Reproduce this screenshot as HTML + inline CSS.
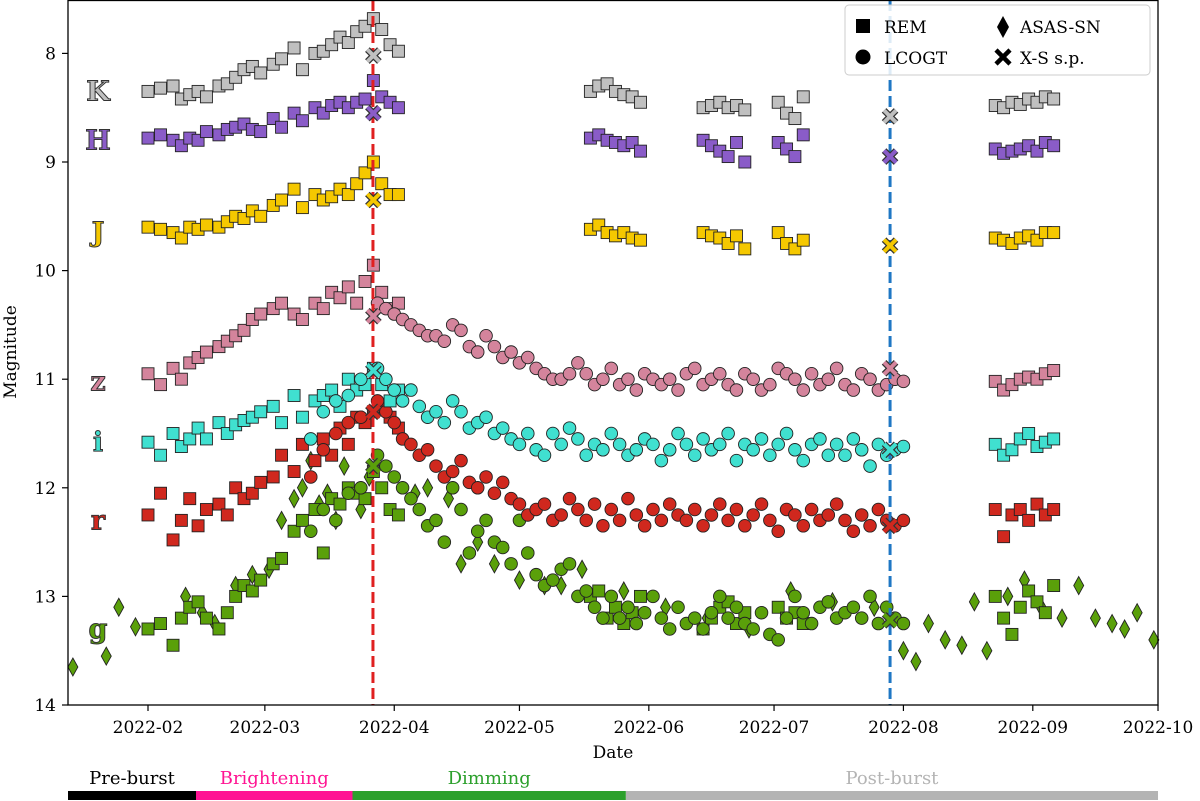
<!DOCTYPE html>
<html><head><meta charset="utf-8"><style>
html,body{margin:0;padding:0;background:#fff;}
svg{display:block;font-family:"DejaVu Serif","Liberation Serif",serif;}
</style></head><body>
<svg id="chart" width="1200" height="801" viewBox="0 0 1200 801" xmlns="http://www.w3.org/2000/svg">
<g id="marks"></g>
<g id="axes"></g>
</svg>
<script>
// ---- data (days since 2022-01-01, magnitudes) ----
const remPreDays=[31,34,37,39,41,43,45,48,50,52,54,56,58,61,63,66,68,71,73,75,77,79,81,83,85,87,89,91];
const kPre=[8.35,8.32,8.3,8.42,8.38,8.35,8.4,8.3,8.28,8.22,8.15,8.12,8.18,8.1,8.05,7.95,8.15,8.0,7.98,7.92,7.85,7.9,7.8,7.75,7.68,7.78,7.92,7.98];
const hPre=[8.78,8.75,8.8,8.85,8.78,8.8,8.72,8.75,8.7,8.68,8.65,8.7,8.72,8.6,8.68,8.55,8.62,8.5,8.55,8.48,8.45,8.5,8.45,8.42,8.25,8.4,8.45,8.5];
const jPre=[9.6,9.62,9.65,9.7,9.6,9.62,9.58,9.6,9.55,9.5,9.52,9.45,9.5,9.4,9.35,9.25,9.42,9.3,9.35,9.32,9.25,9.3,9.2,9.1,9.0,9.2,9.3,9.3];
const zPre=[10.95,11.05,10.9,11.0,10.85,10.8,10.75,10.7,10.65,10.6,10.55,10.45,10.4,10.35,10.3,10.4,10.45,10.3,10.35,10.2,10.25,10.15,10.3,10.1,9.95,10.2,10.35,10.3];
const iPre=[11.58,11.7,11.5,11.62,11.55,11.45,11.55,11.4,11.5,11.42,11.38,11.35,11.3,11.25,11.4,11.15,11.35,11.2,11.15,11.1,11.25,11.0,11.1,11.05,10.9,11.05,11.2,11.1];
const rPre=[12.25,12.05,12.48,12.3,12.1,12.35,12.2,12.15,12.25,12.0,12.1,12.05,11.95,11.9,11.7,11.85,11.6,11.75,11.55,11.7,11.45,11.6,11.35,11.4,11.3,11.25,11.35,11.45];
const gPre=[13.3,13.25,13.45,13.2,13.1,13.05,13.2,13.3,13.15,13.0,12.9,12.95,12.85,12.7,12.65,12.4,12.3,12.2,12.6,12.1,12.15,12.0,12.05,12.1,11.85,12.0,12.2,12.25];
const lcoPreDays=[70,73,76,79,82];
const iLcoPre=[11.55,11.3,11.2,11.15,11.0];
const rLcoPre=[11.9,11.65,11.5,11.4,11.35];
const gLcoPre=[12.4,12.2,12.3,12.05,12.0];
const remPostDays=[137,139,141,143,145,147,149,164,166,168,170,172,174,182,184,186,188,234,236,238,240,242,244,246,248];
const kPost=[8.35,8.3,8.28,8.35,8.38,8.4,8.45,8.5,8.48,8.45,8.5,8.48,8.52,8.45,8.55,8.6,8.4,8.48,8.5,8.45,8.47,8.42,8.45,8.4,8.42];
const hPost=[8.78,8.75,8.8,8.82,8.85,8.82,8.9,8.8,8.85,8.9,8.95,8.82,9.0,8.82,8.88,8.95,8.75,8.88,8.92,8.9,8.88,8.85,8.9,8.82,8.85];
const jPost=[9.62,9.58,9.65,9.68,9.65,9.7,9.72,9.65,9.68,9.7,9.75,9.68,9.8,9.65,9.75,9.8,9.72,9.7,9.72,9.75,9.7,9.68,9.72,9.65,9.65];
const remSepDays=[234,236,238,240,242,244,246,248];
const zSep=[11.02,11.1,11.05,11.0,10.98,11.0,10.95,10.92];
const iSep=[11.6,11.7,11.65,11.55,11.5,11.62,11.58,11.55];
const rSep=[12.2,12.45,12.25,12.2,12.3,12.15,12.25,12.2];
const gSep=[13.0,13.2,13.35,13.1,12.95,13.05,13.15,12.9];
const remMidDays=[137,139,141,143,145,147,149,164,166,168,170,172,174,182,184,186,188];
const gMid=[13.0,12.95,13.2,13.1,13.25,13.15,13.0,13.3,13.2,13.1,13.05,13.25,13.15,13.1,13.2,13.15,13.25];
const lcoDays=[86,88,90,92,94,96,98,100,102,104,106,108,110,112,114,116,118,120,122,124,126,128,130,132,134,136,138,140,142,144,146,148,150,152,154,156,158,160,162,164,166,168,170,172,174,176,178,180,182,184,186,188,190,192,194,196,198,200,202,204,206,208,210,212];
const zLco=[10.3,10.35,10.4,10.45,10.5,10.55,10.6,10.6,10.65,10.5,10.55,10.7,10.75,10.6,10.7,10.8,10.75,10.85,10.8,10.9,10.95,11.0,11.0,10.95,10.85,10.95,11.05,11.0,10.9,11.05,11.0,11.1,10.95,11.0,11.05,11.0,11.1,10.95,10.9,11.05,11.0,10.95,11.05,11.1,10.95,11.0,11.1,11.05,10.9,10.95,11.0,11.1,10.95,11.05,11.0,10.9,11.05,11.1,10.95,11.0,11.1,11.05,11.0,11.02];
const iLco=[10.9,11.0,11.1,11.2,11.1,11.25,11.35,11.3,11.4,11.2,11.3,11.45,11.4,11.35,11.5,11.45,11.55,11.6,11.5,11.65,11.7,11.5,11.6,11.45,11.55,11.7,11.6,11.65,11.5,11.6,11.7,11.65,11.55,11.6,11.75,11.65,11.5,11.6,11.7,11.55,11.65,11.6,11.5,11.75,11.6,11.65,11.55,11.7,11.6,11.5,11.65,11.75,11.6,11.55,11.7,11.6,11.7,11.55,11.65,11.8,11.6,11.7,11.65,11.62];
const rLco=[11.2,11.3,11.4,11.55,11.6,11.7,11.65,11.8,11.9,11.85,11.75,11.95,12.0,11.9,12.05,11.95,12.1,12.15,12.25,12.2,12.15,12.3,12.25,12.1,12.2,12.3,12.15,12.35,12.2,12.3,12.1,12.25,12.35,12.2,12.3,12.15,12.25,12.3,12.2,12.35,12.25,12.15,12.3,12.2,12.35,12.25,12.15,12.3,12.4,12.2,12.25,12.35,12.2,12.3,12.25,12.15,12.3,12.4,12.25,12.35,12.2,12.3,12.35,12.3];
const gLco=[11.7,11.8,11.9,12.0,12.1,12.2,12.35,12.3,12.5,12.0,12.2,12.6,12.4,12.3,12.5,12.55,12.7,12.3,12.6,12.8,12.9,12.85,12.75,12.7,13.0,12.95,13.1,13.2,13.0,13.2,13.1,13.25,13.15,13.0,13.2,13.3,13.1,13.25,13.2,13.3,13.15,13.0,13.2,13.1,13.25,13.3,13.15,13.35,13.4,13.2,13.0,13.15,13.25,13.1,13.05,13.2,13.15,13.1,13.2,13.0,13.25,13.1,13.2,13.25];
const asasDays=[13,21,24,28,40,44,47,52,56,60,63,66,68,70,72,74,76,78,82,84,95,98,103,106,110,114,120,126,130,135,145,155,165,175,185,195,205,212,215,218,222,226,229,232,237,241,245,250,254,258,262,265,268,272];
const asasG=[13.65,13.55,13.1,13.28,13.0,13.15,13.25,12.9,12.8,12.75,12.3,12.1,12.0,11.75,12.15,12.05,12.3,11.8,12.2,11.9,12.05,12.0,12.1,12.7,12.5,12.7,12.85,12.9,12.9,12.75,12.95,13.1,13.2,13.3,12.95,13.05,13.1,13.5,13.6,13.25,13.4,13.45,13.05,13.5,13.0,12.85,13.1,13.2,12.9,13.2,13.25,13.3,13.15,13.4];
const xsDays=[85,85,85,85,85,85,85,208.8,208.8,208.8,208.8,208.8,208.8,208.8];
const xsMags=[8.02,8.55,9.35,10.42,10.92,11.3,11.8,8.58,8.95,9.77,10.9,11.65,12.35,13.22];
const xsBands=['K','H','J','z','i','r','g','K','H','J','z','i','r','g'];
const vlineDays=[84.9,208.8];
const yTicks=[8,9,10,11,12,13,14];
const xTickDays=[31,59,90,120,151,181,212,243,273];
const xTickLabels=['2022-02','2022-03','2022-04','2022-05','2022-06','2022-07','2022-08','2022-09','2022-10'];
const phaseNames=['Pre-burst','Brightening','Dimming','Post-burst'];
const phaseStart=[11,42.5,80,145.5];
const phaseEnd=[42.5,80,145.5,273];

const C={K:'#c0c0c0',H:'#8a5cc8',J:'#f5c800',z:'#d4849c',i:'#40e0d0',r:'#d0281e',g:'#5aa00a'};
const L=68,R=1158,T=0,B=705;
const X=d=>148+(d-31)*4.1736;
const Y=m=>705-(14-m)*108.6;
const NS='http://www.w3.org/2000/svg';
const marks=document.getElementById('marks'), axes=document.getElementById('axes');
function mk(tag,attrs,parent){const e=document.createElementNS(NS,tag);for(const k in attrs)e.setAttribute(k,attrs[k]);parent.appendChild(e);return e;}
function sq(x,y,col,p){const e=mk('rect',{x:x-6,y:y-6,width:12,height:12,fill:col,stroke:'#222','stroke-width':0.9},p);

}
function ci(x,y,col,p){const e=mk('circle',{cx:x,cy:y,r:6.3,fill:col,stroke:'#222','stroke-width':0.9},p);

}
function di(x,y,col,p){const e=mk('polygon',{points:`${x},${y-9} ${x+5},${y} ${x},${y+9} ${x-5},${y}`,fill:col,stroke:'#222','stroke-width':0.9},p);

}
function xs(x,y,col,p){const s=6;const d=`M${x-s},${y-s}L${x+s},${y+s}M${x-s},${y+s}L${x+s},${y-s}`;
mk('path',{d:d,stroke:'#333','stroke-width':6.5,'stroke-linecap':'butt'},p);
const e=mk('path',{d:d,stroke:col,'stroke-width':4},p);

}

const g=marks;
asasDays.forEach((d,k)=>di(X(d),Y(asasG[k]),C.g,g));
remPreDays.forEach((d,k)=>sq(X(d),Y(gPre[k]),C.g,g));
lcoPreDays.forEach((d,k)=>ci(X(d),Y(gLcoPre[k]),C.g,g));
remMidDays.forEach((d,k)=>sq(X(d),Y(gMid[k]),C.g,g));
remSepDays.forEach((d,k)=>sq(X(d),Y(gSep[k]),C.g,g));
lcoDays.forEach((d,k)=>ci(X(d),Y(gLco[k]),C.g,g));
remPreDays.forEach((d,k)=>sq(X(d),Y(rPre[k]),C.r,g));
lcoPreDays.forEach((d,k)=>ci(X(d),Y(rLcoPre[k]),C.r,g));
remSepDays.forEach((d,k)=>sq(X(d),Y(rSep[k]),C.r,g));
lcoDays.forEach((d,k)=>ci(X(d),Y(rLco[k]),C.r,g));
remPreDays.forEach((d,k)=>sq(X(d),Y(iPre[k]),C.i,g));
lcoPreDays.forEach((d,k)=>ci(X(d),Y(iLcoPre[k]),C.i,g));
remSepDays.forEach((d,k)=>sq(X(d),Y(iSep[k]),C.i,g));
lcoDays.forEach((d,k)=>ci(X(d),Y(iLco[k]),C.i,g));
remPreDays.forEach((d,k)=>sq(X(d),Y(zPre[k]),C.z,g));
remSepDays.forEach((d,k)=>sq(X(d),Y(zSep[k]),C.z,g));
lcoDays.forEach((d,k)=>ci(X(d),Y(zLco[k]),C.z,g));
[[jPre,jPost,C.J],[hPre,hPost,C.H],[kPre,kPost,C.K]].forEach(([a,b,c])=>{
 remPreDays.forEach((d,k)=>sq(X(d),Y(a[k]),c,g));
 remPostDays.forEach((d,k)=>sq(X(d),Y(b[k]),c,g));
});
const vcol=['#e02020','#1f77c4'];
vlineDays.forEach((d,k)=>{const e=mk('line',{x1:X(d),x2:X(d),y1:T,y2:B,stroke:vcol[k],'stroke-width':3,'stroke-dasharray':'11,5'},g);

});
xsDays.forEach((d,k)=>xs(X(d),Y(xsMags[k]),C[xsBands[k]],g));

const bandLab=[['K',8.35],['H',8.8],['J',9.65],['z',11.02],['i',11.58],['r',12.3],['g',13.3]];
bandLab.forEach(([b,m])=>{const t=mk('text',{x:98,y:Y(m)+9,'text-anchor':'middle','font-size':27,'font-weight':'bold',fill:C[b],stroke:'#333','stroke-width':1,'font-family':'"DejaVu Serif","Liberation Serif",serif'},axes);t.textContent=b;

});

const fr=mk('rect',{x:L,y:T+0.5,width:R-L,height:B-T-0.5,fill:'none',stroke:'#000','stroke-width':1.3},axes);


yTicks.forEach(v=>{const y=Y(v);mk('line',{x1:L-6,x2:L,y1:y,y2:y,stroke:'#000','stroke-width':1.2},axes);
const t=mk('text',{x:L-12,y:y+6,'text-anchor':'end','font-size':17},axes);t.textContent=v;

});
xTickDays.forEach((d,k)=>{const x=X(d);mk('line',{x1:x,x2:x,y1:B,y2:B+6,stroke:'#000','stroke-width':1.2},axes);
const t=mk('text',{x:x,y:B+28,'text-anchor':'middle','font-size':17},axes);t.textContent=xTickLabels[k];

});
let t=mk('text',{x:613,y:758,'text-anchor':'middle','font-size':17},axes);t.textContent='Date';


t=mk('text',{x:16,y:352,'text-anchor':'middle','font-size':17,transform:'rotate(-90 16 352)'},axes);t.textContent='Magnitude';



const pcol=['#000000','#ff1493','#2ca02c','#b4b4b4'];
phaseNames.forEach((n,k)=>{const x1=Math.max(L,X(phaseStart[k])),x2=X(phaseEnd[k]);
const r=mk('rect',{x:x1,y:791,width:x2-x1,height:9,fill:pcol[k]},axes);


const tt=mk('text',{x:(x1+x2)/2,y:784,'text-anchor':'middle','font-size':18,fill:pcol[k]},axes);tt.textContent=n;

});

const lg=mk('g',{},axes);


mk('rect',{x:845,y:5,width:305,height:70,rx:4,fill:'#fff','fill-opacity':0.85,stroke:'#ccc'},lg);
mk('rect',{x:856,y:19,width:14,height:14,fill:'#000'},lg);
mk('circle',{cx:863,cy:57,r:7.5,fill:'#000'},lg);
mk('polygon',{points:'1003,16 1009,27 1003,38 997,27',fill:'#000'},lg);
mk('path',{d:'M996,50L1010,64M996,64L1010,50',stroke:'#000','stroke-width':4.5},lg);
[['REM',884,33],['LCOGT',884,64],['ASAS-SN',1020,33],['X-S s.p.',1020,64]].forEach(([s,x,y])=>{const e=mk('text',{x:x,y:y,'font-size':17},lg);e.textContent=s;

});
</script>
</body></html>
